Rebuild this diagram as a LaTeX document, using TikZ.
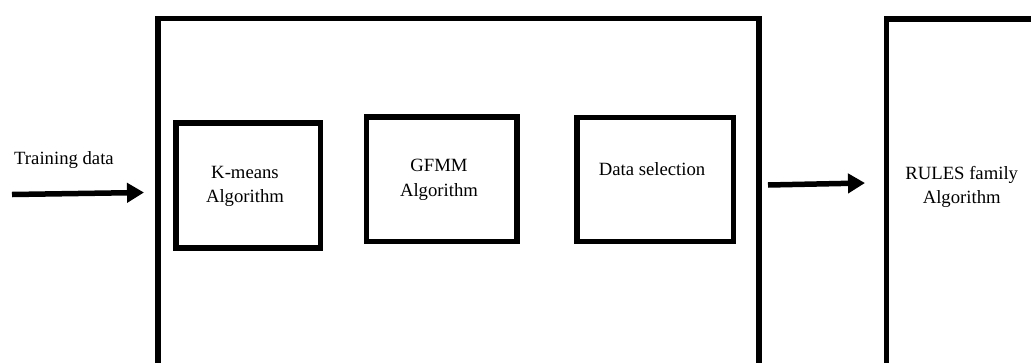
\documentclass[tikz,border=0pt]{standalone}
\usepackage{fontspec}
\setmainfont{Liberation Serif}
\usetikzlibrary{arrows.meta}
\begin{document}
\begin{tikzpicture}[x=1pt,y=-1pt,
  frame/.style={draw=black, line width=5.5pt, rectangle, inner sep=0pt},
  lbl/.style={font=\fontsize{18.7}{24.5}\selectfont, align=center, inner sep=0pt},
  flow/.style={line width=5.5pt, -{Triangle[length=17pt,width=19pt]}}]
\useasboundingbox (0,0) rectangle (1031,362);
\clip (0,0) rectangle (1031,362);

% pre-processing stage (runs off the bottom edge)
\node[frame, minimum width=601pt, minimum height=420pt, anchor=north west] (stage) at (155,15.5) {};
% rule-induction stage (runs off the right and bottom edges)
\node[frame, minimum width=240pt, minimum height=420pt, anchor=north west] (rules) at (883.5,16) {};

% inner steps
\node[frame, minimum width=144.5pt, minimum height=125pt, anchor=north west] (kmeans) at (173,120.3) {};
\node[frame, minimum width=150.3pt, minimum height=124.7pt, anchor=north west] (gfmm) at (363.7,114) {};
\node[frame, minimum width=156.5pt, minimum height=124.2pt, anchor=north west] (select) at (574,114.5) {};

% labels
\node[lbl] (kmeanstxt) at (245,186.5) {K-means\\Algorithm};
\node[lbl] (gfmmtxt) at (439,179.7) {GFMM\\Algorithm};
\node[lbl] (selecttxt) at (652,169) {Data selection};
\node[lbl] (rulestxt) at (961.7,187) {RULES family\\Algorithm};
\node[lbl] (train) at (64,160) {Training data};

% data flow arrows
\coordinate (inA) at (12,194.5);
\coordinate (inB) at (144,192.5);
\coordinate (outA) at (768,185);
\coordinate (outB) at (865,183);
\draw[flow] (inA) -- (inB);
\draw[flow] (outA) -- (outB);
\end{tikzpicture}
\end{document}
